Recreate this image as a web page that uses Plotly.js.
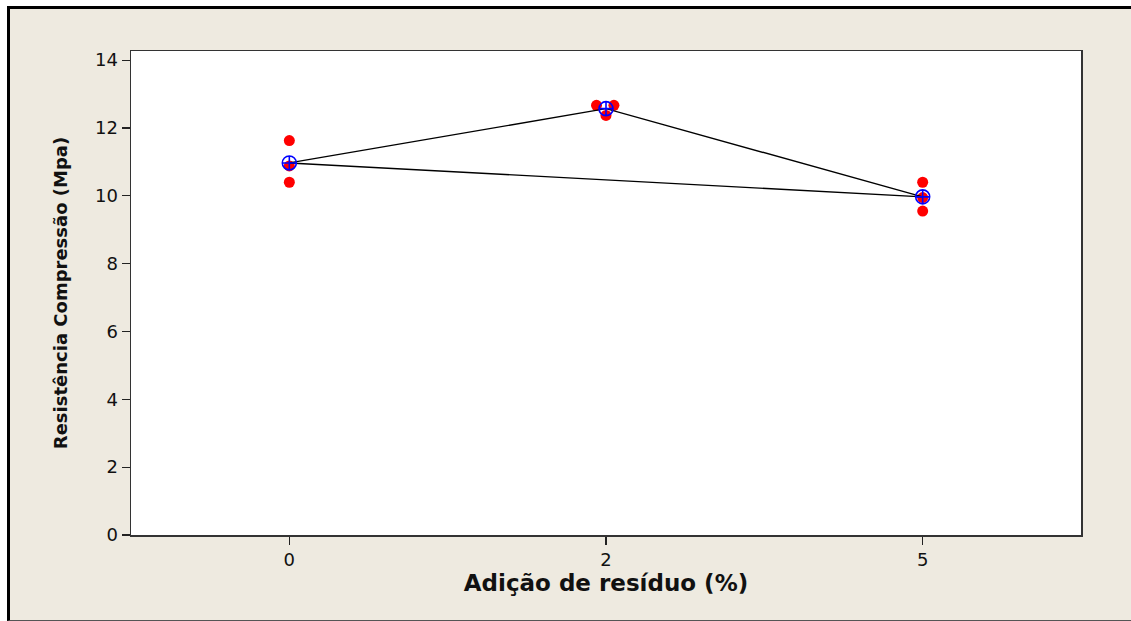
<!DOCTYPE html>
<html>
<head>
<meta charset="utf-8">
<script src="https://cdn.plot.ly/plotly-3.0.1.min.js"></script>
<style>
  html, body { margin:0; padding:0; background:#ffffff; }
  #bg { position:absolute; left:7px; top:6px; width:1124px; height:611px;
        background:#EEEAE0; border-top:3px solid #000; border-left:3px solid #000;
        border-bottom:1px solid #555; box-sizing:content-box; }
  #chart { position:absolute; left:0; top:0; width:1131px; height:621px; }
</style>
</head>
<body>
<div id="bg"></div>
<div id="chart"></div>
<script>
// Categories (Adição de resíduo, %)
const categories = ['0', '2', '5'];
// Individual observations per category
const obsCategory = ['0', '0', '0', '2', '2', '2', '5', '5', '5'];
const obsValues   = [11.63, 10.88, 10.40, 12.67, 12.67, 12.37, 10.40, 9.95, 9.55];
const obsJitter   = [0, 0, 0, -0.03, 0.025, 0, 0, 0, 0];
// Means per category
const meanValues = [10.97, 12.57, 9.97];
// Order in which the mean-connect line was drawn
const lineOrder = ['0', '2', '5', '0'];

const idx = c => categories.indexOf(c);

const traceObs = {
  x: obsCategory.map((c, i) => idx(c) + obsJitter[i]),
  y: obsValues,
  mode: 'markers',
  type: 'scatter',
  marker: { color: '#FF0000', size: 11, symbol: 'circle' },
  hoverinfo: 'y'
};

const traceLine = {
  x: lineOrder.map(idx),
  y: lineOrder.map(c => meanValues[idx(c)]),
  mode: 'lines',
  type: 'scatter',
  line: { color: '#000000', width: 1.4 },
  hoverinfo: 'skip'
};

const traceMean = {
  x: categories.map(idx),
  y: meanValues,
  mode: 'markers',
  type: 'scatter',
  marker: { color: '#0000FF', size: 14, symbol: 'circle-cross-open', line: { color: '#0000FF', width: 1.6 } },
  hoverinfo: 'y'
};

const font = { family: 'DejaVu Sans, Verdana, sans-serif', color: '#111' };

const layout = {
  width: 1131, height: 621,
  margin: { l: 131, r: 50, t: 51, b: 86, pad: 0 },
  paper_bgcolor: 'rgba(0,0,0,0)',
  plot_bgcolor: '#FFFFFF',
  showlegend: false,
  font: font,
  xaxis: {
    range: [-0.5, 2.5],
    tickmode: 'array',
    tickvals: categories.map(idx),
    ticktext: categories,
    ticks: 'outside', ticklen: 8, tickwidth: 1.2, tickcolor: '#222',
    showgrid: false, zeroline: false,
    showline: true, mirror: true, linecolor: '#333', linewidth: 1.5,
    tickfont: { family: font.family, size: 18, color: '#111' },
    title: { text: '<b>Adição de resíduo (%)</b>', font: { family: font.family, size: 23, color: '#111' }, standoff: 6 }
  },
  yaxis: {
    range: [0, 14.27],
    tickmode: 'array',
    tickvals: [0, 2, 4, 6, 8, 10, 12, 14],
    ticks: 'outside', ticklen: 8, tickwidth: 1.2, tickcolor: '#222',
    showgrid: false, zeroline: false,
    showline: true, mirror: true, linecolor: '#333', linewidth: 1.5,
    tickfont: { family: font.family, size: 18, color: '#111' },
    title: { text: '<b>Resistência Compressão (Mpa)</b>', font: { family: font.family, size: 18, color: '#111' }, standoff: 22 }
  }
};

Plotly.newPlot('chart', [traceObs, traceLine, traceMean], layout, { displayModeBar: false, staticPlot: true });
</script>
</body>
</html>
